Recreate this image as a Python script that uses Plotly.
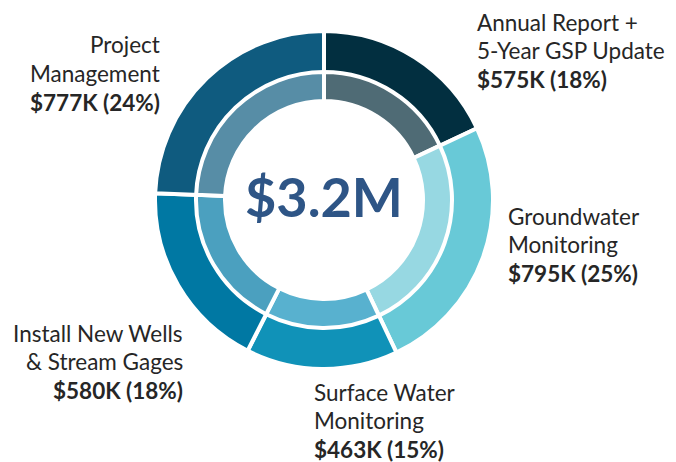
import plotly.graph_objects as go

# budget breakdown, in $K
categories = ["Annual Report + 5-Year GSP Update", "Groundwater Monitoring",
              "Surface Water Monitoring", "Install New Wells & Stream Gages",
              "Project Management"]
amounts = [575, 795, 463, 580, 777]
pct_labels = ["18%", "25%", "15%", "18%", "24%"]
label_lines = [["Annual Report +", "5-Year GSP Update"],
               ["Groundwater", "Monitoring"],
               ["Surface Water", "Monitoring"],
               ["Install New Wells", "& Stream Gages"],
               ["Project", "Management"]]
center_text = "$3.2M"

outer_colors = ["#022F40", "#68C9D7", "#1092B8", "#0078A3", "#0F5B7F"]
inner_colors = ["#4F6B75", "#97D8E2", "#58B1CF", "#4BA0BF", "#578DA6"]

# page body has an 8px margin, so work in a slightly smaller canvas
OFF = 8
W, H = 676 - OFF, 462 - OFF
cx, cy = 324 - OFF, 200 - OFF  # centre, pixels from top
r_out, r_mid, r_hole = 169, 128, 99


def dom(r):
    return dict(x=[(cx - r) / W, (cx + r) / W], y=[(H - cy - r) / H, (H - cy + r) / H])


fig = go.Figure()
fig.add_trace(go.Pie(labels=categories, values=amounts, sort=False, direction="clockwise",
                     hole=r_hole / r_out, domain=dom(r_out), textinfo="none",
                     marker=dict(colors=outer_colors, line=dict(color="white", width=4)),
                     hoverinfo="skip", showlegend=False))
fig.add_trace(go.Pie(labels=categories, values=amounts, sort=False, direction="clockwise",
                     hole=r_hole / r_mid, domain=dom(r_mid), textinfo="none",
                     marker=dict(colors=inner_colors, line=dict(color="white", width=4)),
                     hoverinfo="skip", showlegend=False))

# label placement: (x px, y px of first line, anchor), reference pixels
spots = [(475, 22, "left"), (506, 216, "left"), (312, 392, "left"),
         (185, 333, "right"), (162, 45, "right")]
gap = 28.5
for (x, y, side), lines, amt, pct in zip(spots, label_lines, amounts, pct_labels):
    rows = lines + ["<b>$%dK (%s)</b>" % (amt, pct)]
    for i, row in enumerate(rows):
        fig.add_annotation(x=(x - OFF) / W, y=1 - (y + i * gap - OFF) / H,
                           xref="paper", yref="paper", text=row,
                           showarrow=False, xanchor=side, yanchor="middle",
                           font=dict(family="Lato", size=22.5, color="#262626"))

fig.add_annotation(x=cx / W, y=1 - (196 - OFF) / H, xref="paper", yref="paper",
                   text="<b>%s</b>" % center_text,
                   showarrow=False, xanchor="center", yanchor="middle",
                   font=dict(family="Lato", size=54, color="#2E5586"))

fig.update_layout(width=W, height=H, margin=dict(l=0, r=0, t=0, b=0),
                  paper_bgcolor="white", plot_bgcolor="white")
fig.write_html("out.html")
